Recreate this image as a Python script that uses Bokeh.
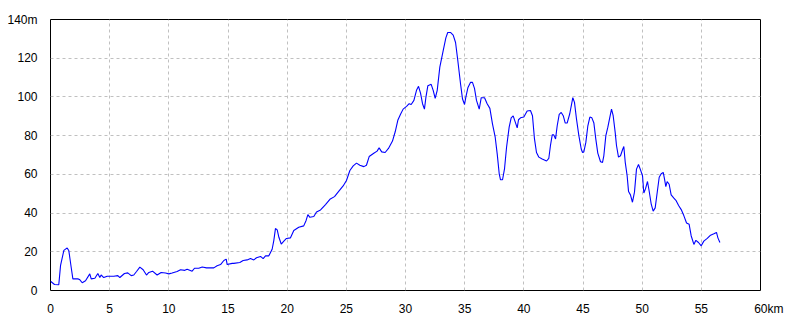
from bokeh.plotting import figure
from bokeh.models import FixedTicker, Range1d
from bokeh.embed import file_html
from bokeh.resources import INLINE

km = [0.0, 0.34, 0.7, 0.85, 1.13, 1.41, 1.55, 1.75, 1.89, 2.31, 2.45, 2.68, 2.96, 3.32, 3.44,
      3.75, 4.0, 4.17, 4.28, 4.5, 4.79, 5.35, 5.69, 5.86, 6.25, 6.53, 6.82, 7.04, 7.27, 7.55,
      7.83, 8.11, 8.31, 8.62, 9.01, 9.35, 9.72, 10.0, 10.28, 10.7, 10.99, 11.35, 11.55, 11.97,
      12.17, 12.53, 12.82, 13.18, 13.38, 13.8, 14.08, 14.37, 14.65, 14.85, 14.93, 15.35, 15.49,
      16.0, 16.28, 16.62, 16.9, 17.18, 17.41, 17.75, 17.97, 18.17, 18.45, 18.73, 18.87, 19.01,
      19.16, 19.3, 19.5, 19.72, 19.94, 20.28, 20.56, 20.98, 21.4, 21.6, 21.75, 21.92, 22.25,
      22.48, 22.82, 23.24, 23.61, 24.0, 24.37, 24.73, 25.01, 25.3, 25.58, 25.86, 26.14, 26.48,
      26.7, 26.93, 27.32, 27.6, 27.77, 27.99, 28.28, 28.56, 28.9, 29.13, 29.35, 29.58, 29.8,
      30.09, 30.31, 30.48, 30.71, 30.93, 31.1, 31.27, 31.44, 31.6, 31.72, 31.89, 32.17, 32.34,
      32.51, 32.68, 32.9, 33.19, 33.41, 33.57, 33.8, 34.03, 34.23, 34.42, 34.65, 34.82, 34.99,
      35.1, 35.27, 35.49, 35.66, 35.83, 36.0, 36.23, 36.4, 36.68, 36.9, 37.13, 37.35, 37.58,
      37.75, 37.92, 38.03, 38.2, 38.37, 38.54, 38.76, 38.93, 39.1, 39.27, 39.44, 39.55, 39.72,
      40.0, 40.28, 40.56, 40.73, 40.9, 41.07, 41.27, 41.55, 41.92, 42.11, 42.25, 42.4, 42.53,
      42.68, 42.82, 42.99, 43.16, 43.33, 43.5, 43.66, 43.88, 44.0, 44.14, 44.28, 44.45, 44.65,
      44.85, 44.96, 45.07, 45.24, 45.41, 45.58, 45.75, 45.92, 46.08, 46.25, 46.48, 46.65, 46.76,
      46.93, 47.1, 47.27, 47.41, 47.55, 47.72, 47.83, 48.0, 48.17, 48.34, 48.45, 48.57, 48.73,
      48.85, 49.01, 49.18, 49.35, 49.52, 49.69, 49.86, 50.03, 50.14, 50.28, 50.45, 50.59, 50.76,
      50.93, 51.1, 51.27, 51.44, 51.61, 51.78, 51.89, 52.0, 52.11, 52.28, 52.45, 52.68, 52.85,
      53.08, 53.3, 53.52, 53.75, 53.97, 54.14, 54.37, 54.54, 54.76, 54.99, 55.21, 55.5, 55.78,
      56.06, 56.28, 56.4, 56.57]
elev = [4.8, 3.1, 3.0, 13.0, 20.7, 22.0, 20.5, 11.9, 6.0, 6.0, 5.7, 4.0, 5.0, 8.6, 6.0,
        6.3, 8.8, 6.7, 8.0, 6.7, 7.4, 7.4, 7.7, 6.7, 8.8, 9.1, 7.7, 8.0, 9.8, 12.1,
        10.7, 8.0, 9.3, 10.0, 8.0, 9.3, 9.0, 8.6, 9.0, 9.8, 10.7, 10.4, 11.0, 10.0,
        11.5, 11.5, 12.1, 11.7, 11.7, 11.7, 12.8, 13.4, 15.5, 16.2, 13.4, 14.0, 14.0,
        14.5, 15.5, 15.8, 16.5, 15.8, 16.9, 17.6, 16.5, 17.9, 17.9, 21.3, 25.8, 32.0,
        31.3, 27.5, 24.0, 25.5, 26.9, 27.2, 31.0, 32.7, 33.4, 36.2, 39.2, 37.8, 38.2,
        40.6, 41.6, 44.4, 47.1, 48.5, 51.3, 54.0, 56.8, 62.0, 64.4, 65.8, 64.7, 64.0,
        64.7, 69.2, 70.9, 72.0, 73.7, 71.6, 71.3, 73.4, 77.2, 82.0, 87.9, 91.0, 93.7,
        95.1, 96.5, 96.1, 98.2, 103.4, 105.5, 102.0, 96.5, 93.7, 99.6, 105.8, 106.5, 103.4,
        99.2, 103.4, 115.4, 124.0, 130.5, 133.3, 133.3, 131.9, 128.1, 118.8, 106.8, 98.9, 96.1,
        99.9, 104.7, 107.5, 107.5, 104.4, 98.2, 93.7, 99.6, 99.6, 96.5, 94.1, 86.1, 79.2,
        70.6, 60.3, 57.2, 57.2, 63.0, 74.0, 84.4, 89.2, 90.2, 87.1, 84.0, 88.2, 89.2,
        89.6, 92.7, 93.0, 90.3, 78.3, 71.3, 68.9, 67.9, 66.9, 68.2, 74.9, 80.4, 80.4,
        78.3, 85.1, 91.0, 92.0, 90.3, 86.5, 86.5, 91.3, 95.1, 99.6, 97.2, 88.6, 80.0,
        73.1, 71.3, 71.6, 76.5, 85.1, 89.6, 89.2, 86.5, 78.3, 71.0, 66.5, 66.2, 69.6,
        80.0, 84.4, 89.6, 93.7, 90.3, 81.7, 74.9, 68.9, 69.6, 72.7, 74.4, 66.2, 59.3,
        51.1, 49.4, 45.6, 50.8, 62.7, 65.1, 62.3, 59.3, 50.4, 52.5, 56.3, 51.4, 44.8,
        41.0, 42.7, 50.6, 58.5, 60.3, 61.0, 57.5, 53.7, 56.3, 54.9, 49.4, 47.7, 46.6,
        43.9, 41.8, 38.7, 34.9, 34.2, 28.3, 23.8, 25.9, 24.8, 23.1, 25.5, 26.9, 28.6,
        29.3, 30.0, 27.2, 24.8]

x_ticks = [0, 5, 10, 15, 20, 25, 30, 35, 40, 45, 50, 55, 60]
y_ticks = [0, 20, 40, 60, 80, 100, 120, 140]
x_labels = {v: str(v) for v in x_ticks}
# the "km" unit follows the last number; left padding keeps "60" centred on its tick
x_labels[60] = "\u00a0" * 5 + "60km"
y_labels = {v: str(v) for v in y_ticks}
y_labels[140] = "140m"

FONT = "Liberation Sans Narrow, Arial Narrow, Liberation Sans, sans-serif"

p = figure(width=800, height=320, output_backend="svg", toolbar_location=None,
           x_range=Range1d(0, 60), y_range=Range1d(0, 140),
           min_border_left=50, min_border_right=40, min_border_top=19, min_border_bottom=30)
p.background_fill_color = "white"
p.border_fill_color = "white"
p.outline_line_color = "black"
p.outline_line_width = 1

p.line(km, elev, line_color="#0000ff", line_width=1.1)

for ax, ticks, labels, standoff in ((p.xaxis, x_ticks, x_labels, 5), (p.yaxis, y_ticks, y_labels, 7)):
    ax.ticker = FixedTicker(ticks=ticks)
    ax.major_label_overrides = labels
    ax.major_tick_line_color = None
    ax.minor_tick_line_color = None
    ax.axis_line_color = None
    ax.major_label_text_font = FONT
    ax.major_label_text_font_size = "12px"
    ax.major_label_text_color = "black"
    ax.major_label_standoff = standoff

for g in (p.xgrid, p.ygrid):
    g.grid_line_color = "#c0c0c0"
    g.grid_line_dash = "3 3"
    g.grid_line_width = 1

open("out.html", "w").write(file_html(p, INLINE))
